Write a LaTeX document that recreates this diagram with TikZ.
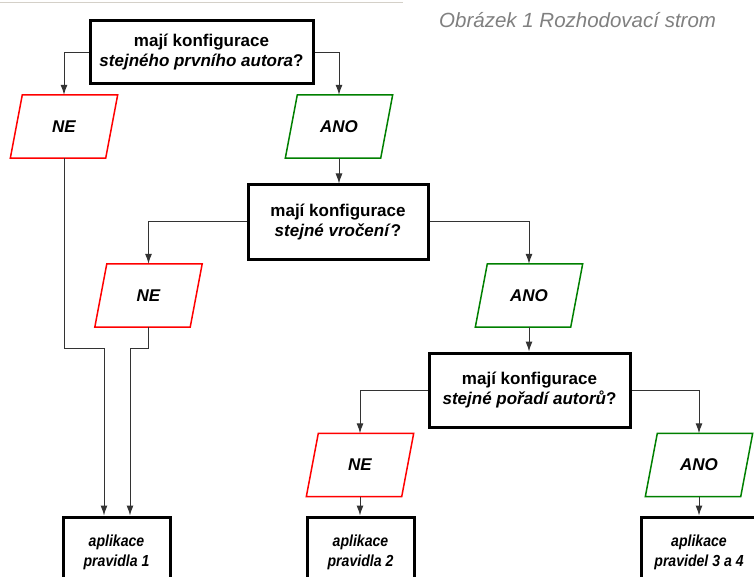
\documentclass[tikz,border=0pt]{standalone}
\usepackage{fontspec}
\setmainfont{Liberation Sans}
\newfontfamily\condsans[FakeStretch=0.88]{Liberation Sans}
\usetikzlibrary{arrows.meta}
\definecolor{capgray}{RGB}{128,128,128}
\definecolor{rulegray}{RGB}{212,208,200}
\definecolor{nered}{RGB}{255,0,0}
\definecolor{anogreen}{RGB}{0,128,0}
\definecolor{conncol}{RGB}{51,51,51}
\newcommand{\paraoutline}[2]{\draw[#2, line width=1.5pt] ([xshift=-12pt]#1.south west) -- (#1.south east) -- ([xshift=12pt]#1.north east) -- (#1.north west) -- cycle;}
\begin{document}
\begin{tikzpicture}[x=1pt,y=-1pt,
  qbox/.style={draw=black, line width=3pt, inner sep=0pt, minimum width=#1, minimum height=74pt, align=center, font=\fontsize{17}{20}\selectfont\bfseries},
  rbox/.style={draw=black, line width=3pt, inner sep=0pt, minimum width=#1, minimum height=70pt, align=center, font=\condsans\fontsize{16}{20}\selectfont\bfseries\itshape},
  paranode/.style={inner sep=0pt, minimum width=83pt, minimum height=63pt, font=\fontsize{17}{20}\selectfont\bfseries\itshape},
  conn/.style={draw=conncol, line width=1pt, -{Latex[length=10pt,width=7pt]}},
  plain/.style={draw=conncol, line width=1pt}
]
\fill[white] (0,0) rectangle (754,577);
\clip (0,0) rectangle (754,577);
\useasboundingbox (0,0) rectangle (754,577);

\draw[rulegray, line width=1pt] (0,3) -- (403,3);
\node[anchor=base west, text=capgray, font=\fontsize{20.5}{24}\selectfont\itshape, inner sep=0pt] (cap) at (439,28) {Obrázek 1 Rozhodovací strom};

% questions
\node[qbox=223pt, minimum height=63pt] (q1) at (201.5,52.5) {mají konfigurace\\\textit{stejného prvního autora}?};
\node[qbox=180pt] (q2) at (338,222) {mají konfigurace\\\textit{stejné vročení}?};
\node[qbox=201pt] (q3) at (529.5,390) {mají konfigurace\\\textit{stejné pořadí autorů}?};

% answers
\node[paranode] (ne1) at (64,126.5) {NE};
\node[paranode] (ano1) at (339,126.5) {ANO};
\node[paranode] (ne2) at (148.5,295.5) {NE};
\node[paranode] (ano2) at (529,295.5) {ANO};
\node[paranode] (ne3) at (360,465) {NE};
\node[paranode] (ano3) at (699,465) {ANO};
\paraoutline{ne1}{nered}
\paraoutline{ano1}{anogreen}
\paraoutline{ne2}{nered}
\paraoutline{ano2}{anogreen}
\paraoutline{ne3}{nered}
\paraoutline{ano3}{anogreen}

% results
\node[rbox=107pt] (r1) at (116.5,552) {aplikace\\pravidla 1};
\node[rbox=107pt] (r2) at (360.5,552) {aplikace\\pravidla 2};
\node[rbox=116pt] (r3) at (699,552) {aplikace\\pravidel 3 a 4};

% connectors
\draw[conn] (q1.west) -| (ne1.north);
\draw[conn] (q1.east) -| (ano1.north);
\draw[conn] (ano1.south) -- (ano1.south |- q2.north);
\draw[conn] (q2.west) -| (ne2.north);
\draw[conn] (q2.east) -| (ano2.north);
\draw[conn] (ano2.south) -- (ano2.south |- q3.north);
\draw[conn] (q3.west) -| (ne3.north);
\draw[conn] (q3.east) -| (ano3.north);
\draw[conn] (ne3.south) -- (ne3.south |- r2.north);
\draw[conn] (ano3.south) -- (ano3.south |- r3.north);
\coordinate (j1) at (104,348);
\coordinate (j2) at (130,348);
\draw[conn] (ne1.south) |- (j1) -- (j1 |- r1.north);
\draw[conn] (ne2.south) |- (j2) -- (j2 |- r1.north);
\end{tikzpicture}
\end{document}
